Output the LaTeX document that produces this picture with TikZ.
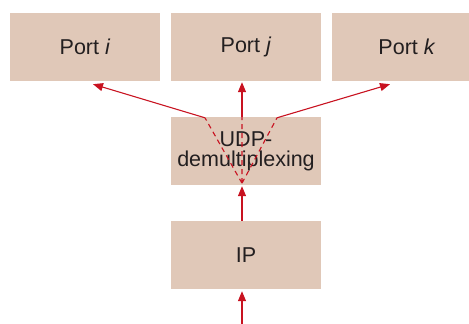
\documentclass[tikz,border=0pt]{standalone}
\usepackage{fontspec}
\setmainfont{Liberation Sans}
\usetikzlibrary{arrows.meta,positioning}
\definecolor{boxfill}{RGB}{224,200,184}
\definecolor{arrred}{RGB}{200,18,32}
\definecolor{txtgray}{RGB}{35,31,32}
\tikzset{
  layer/.style={fill=boxfill,minimum width=150pt,minimum height=68pt,inner sep=0pt,
    align=center,text=txtgray,font=\fontsize{21.5}{20}\selectfont},
  flow/.style={draw=arrred,line width=1.1pt,-{Triangle[length=10pt,width=8pt]}},
  fan/.style={draw=arrred,line width=1.1pt,dash pattern=on 5pt off 4pt}
}

\begin{document}
\begin{tikzpicture}[x=1pt,y=1pt,node distance=104pt and 161pt,on grid]
   \useasboundingbox (-246,-173) rectangle (223,151);
   \clip (-246,-173) rectangle (223,151);
   \node [layer] (udp) {UDP-\\demultiplexing};
   \node [layer] (pj) [above=of udp] {Port \textit{j}};
   \node [layer] (pi) [left=of pj] {Port \textit{i}};
   \node [layer] (pk) [right=of pj] {Port \textit{k}};
   \node [layer] (ip) [below=of udp] {IP};
   % fan-out points inside the demux box
   \coordinate (fork) at ([xshift=-4pt,yshift=2pt]udp.south);
   \coordinate (bendi) at ([xshift=-41pt,yshift=-1pt]udp.north);
   \coordinate (bendj) at ([xshift=-4pt]udp.north);
   \coordinate (bendk) at ([xshift=31pt,yshift=-1pt]udp.north);
   \coordinate (toi) at ([xshift=8pt,yshift=-3pt]pi.south);
   \coordinate (toj) at ([xshift=-4pt,yshift=-1pt]pj.south);
   \coordinate (tok) at ([xshift=-17pt,yshift=-3pt]pk.south);
   \coordinate (inp) at ([xshift=-4pt]ip.south |- 0,-173);
   \draw[flow] (inp) -- ([xshift=-4pt,yshift=-2pt]ip.south);
   \draw[flow] ([xshift=-4pt]ip.north) -- ([xshift=-4pt,yshift=-1pt]udp.south);
   \draw[flow] (bendi) -- (toi);
   \draw[flow] (bendj) -- (toj);
   \draw[flow] (bendk) -- (tok);
   \draw[fan] (fork) -- (bendi) (fork) -- (bendj) (fork) -- (bendk);
\end{tikzpicture}
\end{document}
